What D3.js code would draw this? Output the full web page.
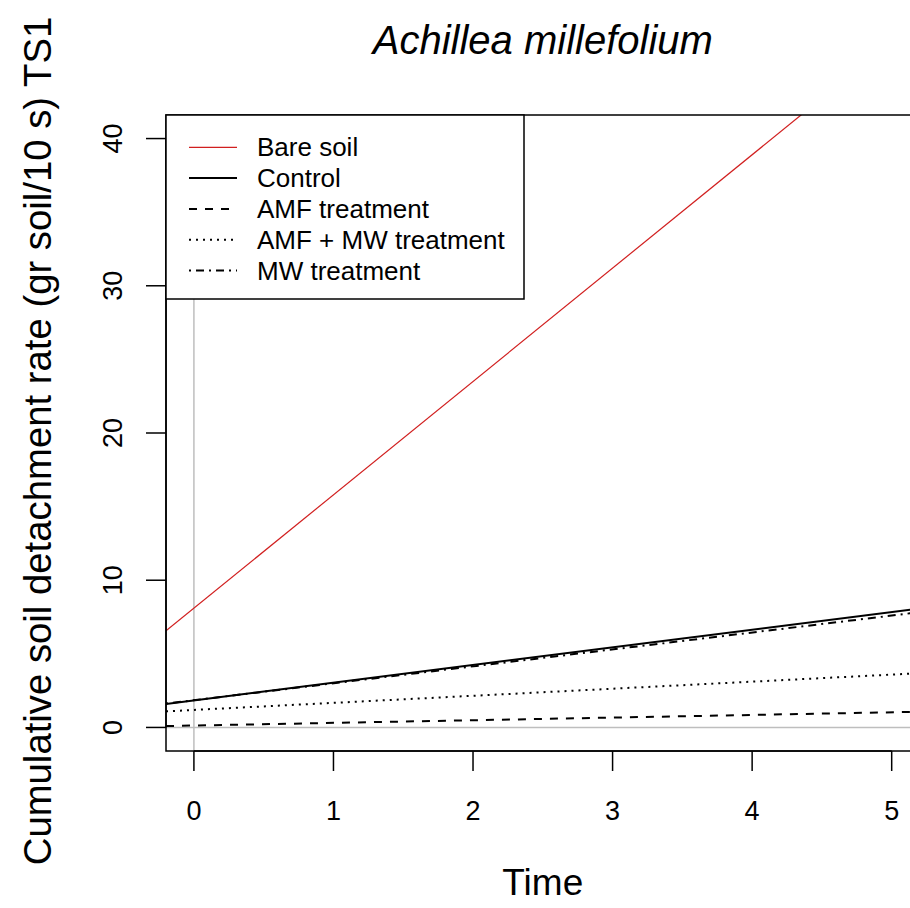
<!DOCTYPE html>
<html lang="en">
<head>
<meta charset="UTF-8">
<title>Achillea millefolium</title>
<script src="https://cdn.jsdelivr.net/npm/d3@7"></script>
<style>
    body { margin: 0; background: #fff; }
    text { font-family: "Liberation Sans", Arial, sans-serif; fill: #000; }
</style>
</head>
<body>
<svg width="910" height="908"></svg>
<script>
    // fitted lines: y = intercept + slope * time
    var series = ["Bare soil", "Control", "AMF treatment", "AMF + MW treatment", "MW treatment"];
    var intercepts = [8.1, 1.84, 0.13, 1.19, 1.85];
    var slopes = [7.7, 1.2, 0.18, 0.48, 1.15];
    var xTicks = [0, 1, 2, 3, 4, 5];
    var yTicks = [0, 10, 20, 30, 40];

    var colors = ["#d11f1f", "#000", "#000", "#000", "#000"];
    var dashes = [null, null, "8,8", "2,5", "2,5,8,5"];
    var widths = [1.2, 2, 2, 2, 2];

    var svg = d3.select("svg");
    var pLeft = 166, pRight = 919.6, pTop = 115, pBottom = 751;

    var x = d3.scaleLinear().domain([-0.2, 5.2]).range([pLeft, pRight]);
    var y = d3.scaleLinear().domain([-1.6, 41.6]).range([pBottom, pTop]);

    svg.append("clipPath").attr("id", "plotclip")
        .append("rect")
        .attr("x", pLeft).attr("y", pTop)
        .attr("width", pRight - pLeft).attr("height", pBottom - pTop);

    var plot = svg.append("g").attr("clip-path", "url(#plotclip)");

    // abline(h=0, v=0, col="gray")
    plot.append("line")
        .attr("x1", pLeft).attr("x2", pRight)
        .attr("y1", y(0)).attr("y2", y(0))
        .attr("stroke", "#bebebe").attr("stroke-width", 1.5);
    plot.append("line")
        .attr("x1", x(0)).attr("x2", x(0))
        .attr("y1", pTop).attr("y2", pBottom)
        .attr("stroke", "#bebebe").attr("stroke-width", 1.5);

    var line = d3.line().x(d => x(d[0])).y(d => y(d[1]));
    var xs = x.domain();

    series.forEach(function (name, i) {
        var pts = xs.map(t => [t, intercepts[i] + slopes[i] * t]);
        plot.append("path")
            .attr("d", line(pts))
            .attr("fill", "none")
            .attr("stroke", colors[i])
            .attr("stroke-width", widths[i])
            .attr("stroke-dasharray", dashes[i]);
    });

    // box
    svg.append("rect")
        .attr("x", pLeft).attr("y", pTop)
        .attr("width", pRight - pLeft).attr("height", pBottom - pTop)
        .attr("fill", "none").attr("stroke", "#000").attr("stroke-width", 1.5);

    // x axis
    var xAxis = svg.append("g").attr("transform", "translate(0," + pBottom + ")");
    xAxis.append("line")
        .attr("x1", x(xTicks[0])).attr("x2", x(xTicks[xTicks.length - 1]))
        .attr("stroke", "#000").attr("stroke-width", 1.5);
    xAxis.selectAll(".tk").data(xTicks).enter().append("line")
        .attr("x1", d => x(d)).attr("x2", d => x(d))
        .attr("y1", 0).attr("y2", 20)
        .attr("stroke", "#000").attr("stroke-width", 1.5);
    xAxis.selectAll("text").data(xTicks).enter().append("text")
        .attr("x", d => x(d)).attr("y", 69)
        .attr("text-anchor", "middle")
        .style("font-size", "27px")
        .text(d => d);

    // y axis
    var yAxis = svg.append("g").attr("transform", "translate(" + pLeft + ",0)");
    yAxis.append("line")
        .attr("y1", y(yTicks[0])).attr("y2", y(yTicks[yTicks.length - 1]))
        .attr("stroke", "#000").attr("stroke-width", 1.5);
    yAxis.selectAll(".tk").data(yTicks).enter().append("line")
        .attr("y1", d => y(d)).attr("y2", d => y(d))
        .attr("x1", 0).attr("x2", -20)
        .attr("stroke", "#000").attr("stroke-width", 1.5);
    yAxis.selectAll("text").data(yTicks).enter().append("text")
        .attr("transform", d => "translate(-44," + y(d) + ") rotate(-90)")
        .attr("text-anchor", "middle")
        .style("font-size", "27px")
        .text(d => d);

    // titles
    svg.append("text")
        .attr("x", (pLeft + pRight) / 2).attr("y", 54)
        .attr("text-anchor", "middle")
        .style("font-size", "40px").style("font-style", "italic")
        .text("Achillea millefolium");

    svg.append("text")
        .attr("x", (pLeft + pRight) / 2).attr("y", 895)
        .attr("text-anchor", "middle")
        .style("font-size", "37px")
        .text("Time");

    svg.append("text")
        .attr("transform", "translate(51,441) rotate(-90)")
        .attr("text-anchor", "middle")
        .style("font-size", "38.3px")
        .text("Cumulative soil detachment rate (gr soil/10 s) TS1");

    // legend
    var lg = svg.append("g");
    lg.append("rect")
        .attr("x", pLeft).attr("y", pTop)
        .attr("width", 358).attr("height", 184)
        .attr("fill", "#fff").attr("stroke", "#000").attr("stroke-width", 1.5);
    series.forEach(function (name, i) {
        var cy = 147.3 + i * 30.8;
        lg.append("line")
            .attr("x1", 189).attr("x2", 237)
            .attr("y1", cy).attr("y2", cy)
            .attr("stroke", colors[i])
            .attr("stroke-width", widths[i])
            .attr("stroke-dasharray", dashes[i]);
        lg.append("text")
            .attr("x", 257).attr("y", cy + 9)
            .style("font-size", "26px")
            .text(name);
    });
</script>
</body>
</html>
